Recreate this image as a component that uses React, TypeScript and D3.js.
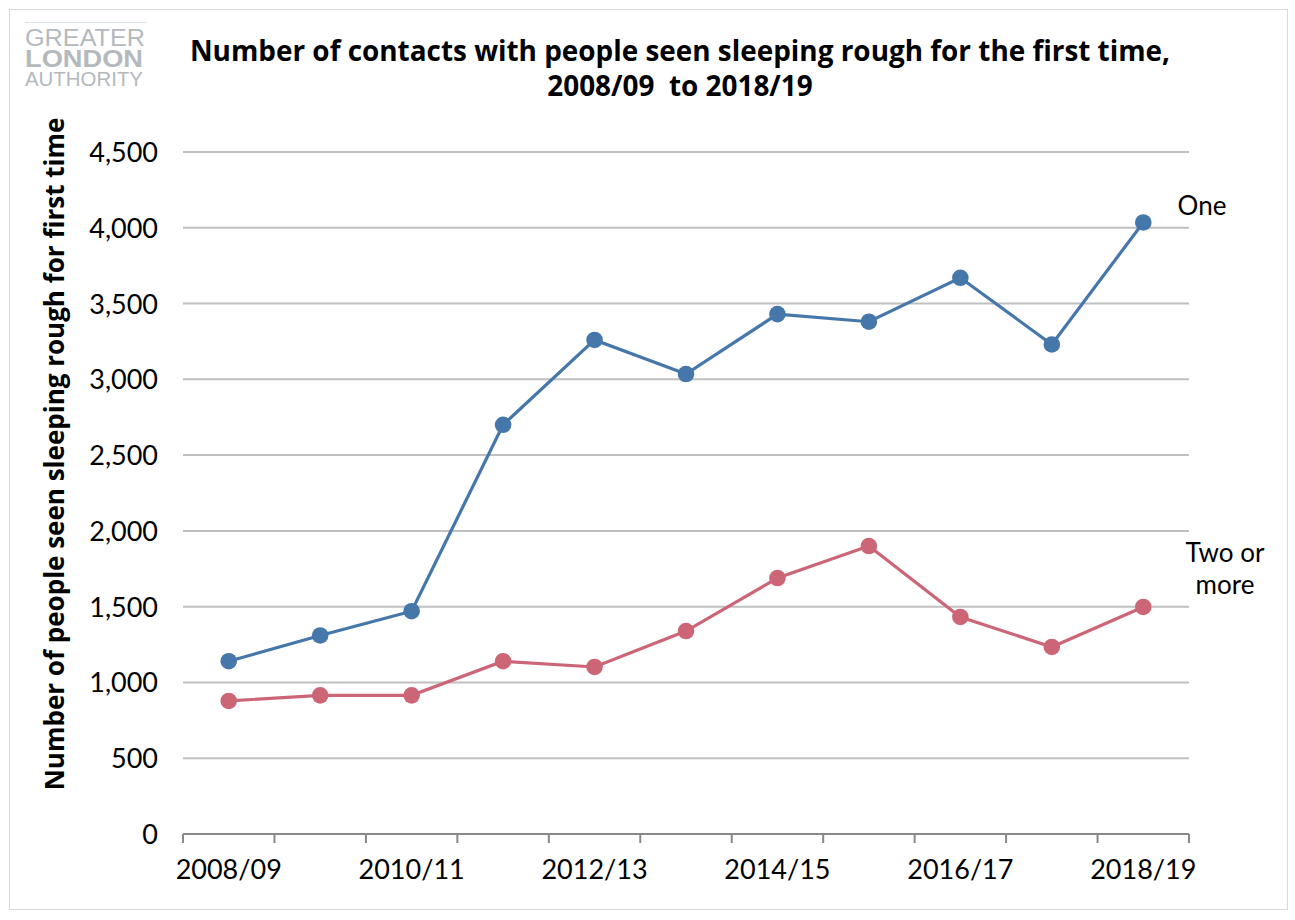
import React from "react";
import * as d3 from "d3";

const categories = ["2008/09","2009/10","2010/11","2011/12","2012/13","2013/14","2014/15","2015/16","2016/17","2017/18","2018/19"];
const oneValues = [1140, 1310, 1470, 2700, 3260, 3035, 3430, 3380, 3670, 3230, 4035];
const twoValues = [878, 915, 915, 1140, 1102, 1339, 1689, 1900, 1432, 1234, 1498];
const yTicks = [0, 500, 1000, 1500, 2000, 2500, 3000, 3500, 4000, 4500];
const shownLabels = ["2008/09","2010/11","2012/13","2014/15","2016/17","2018/19"];

const FONT = "Lato, 'Open Sans', sans-serif";
const BOLD = "'Open Sans', 'DejaVu Sans', sans-serif";
const LOGO = "'Liberation Sans', Arial, sans-serif";

export default function App() {
  const W = 1295, H = 920;
  const left = 183, right = 1189, top = 152, bottom = 834;
  const x = d3.scaleBand<string>().domain(categories).range([left, right]).padding(0);
  const y = d3.scaleLinear().domain([0, 4500]).range([bottom, top]);
  const cx = (c: string) => (x(c) as number) + x.bandwidth() / 2;
  const line = d3.line<number>().x((_, i) => cx(categories[i])).y(d => y(d));
  const blue = "#4677aa";
  const red = "#cc6677";
  const tickXs = categories.map(c => x(c) as number).concat([right]);
  return (
    <svg width={W} height={H} style={{ position: "absolute", left: 0, top: 0, fontFamily: FONT }}>
      <rect x={0} y={0} width={W} height={H} fill="#fff" />
      <rect x={9.5} y={9.5} width={1278} height={900} fill="none" stroke="#d9d9d9" strokeWidth={1} />
      {/* logo */}
      <line x1={25} x2={146} y1={22.5} y2={22.5} stroke="#dde3ea" strokeWidth={1} />
      <text fontFamily={LOGO} fill="#b4b9bd">
        <tspan x={25} y={46} fontSize={23} textLength={120} lengthAdjust="spacingAndGlyphs">GREATER</tspan>
        <tspan x={25} y={67} fontSize={23} fontWeight="bold" textLength={118} lengthAdjust="spacingAndGlyphs">LONDON</tspan>
        <tspan x={25} y={86} fontSize={20} textLength={118} lengthAdjust="spacingAndGlyphs">AUTHORITY</tspan>
      </text>
      {/* title */}
      <text x={680} y={61} textAnchor="middle" fontSize={27.9} fontWeight="bold" fill="#000" fontFamily={BOLD}>Number of contacts with people seen sleeping rough for the first time,</text>
      <text x={680} y={96} textAnchor="middle" fontSize={27.9} fontWeight="bold" fill="#000" fontFamily={BOLD} style={{ whiteSpace: "pre" }}>{"2008/09  to 2018/19"}</text>
      {/* gridlines */}
      {yTicks.filter(t => t > 0).map(t => (
        <line key={t} x1={left} x2={right} y1={y(t)} y2={y(t)} stroke="#c0c0c0" strokeWidth={2} />
      ))}
      {/* x axis */}
      <line x1={left} x2={right} y1={bottom} y2={bottom} stroke="#888" strokeWidth={2} />
      {tickXs.map((tx, i) => (
        <line key={i} x1={tx} x2={tx} y1={bottom} y2={bottom + 9} stroke="#888" strokeWidth={2} />
      ))}
      {shownLabels.map(c => (
        <text key={c} x={cx(c)} y={879} textAnchor="middle" fontSize={27} fill="#000">{c}</text>
      ))}
      {/* y labels */}
      {yTicks.map(t => (
        <text key={t} x={158} y={y(t) + 10} textAnchor="end" fontSize={27} fill="#000">{d3.format(",")(t)}</text>
      ))}
      <text transform={`translate(64,${454}) rotate(-90)`} textAnchor="middle" fontSize={26} fontWeight="bold" fill="#000" fontFamily={BOLD}>Number of people seen sleeping rough for first time</text>
      {/* lines */}
      <path d={line(oneValues) || ""} fill="none" stroke={blue} strokeWidth={3.2} />
      <path d={line(twoValues) || ""} fill="none" stroke={red} strokeWidth={3.2} />
      {oneValues.map((v, i) => <circle key={"o" + i} cx={cx(categories[i])} cy={y(v)} r={8.3} fill={blue} />)}
      {twoValues.map((v, i) => <circle key={"t" + i} cx={cx(categories[i])} cy={y(v)} r={8.3} fill={red} />)}
      {/* series labels */}
      <text x={1202} y={215} textAnchor="middle" fontSize={26} fill="#000">One</text>
      <text x={1225} y={562} textAnchor="middle" fontSize={26} fill="#000">Two or</text>
      <text x={1225} y={594} textAnchor="middle" fontSize={26} fill="#000">more</text>
    </svg>
  );
}
